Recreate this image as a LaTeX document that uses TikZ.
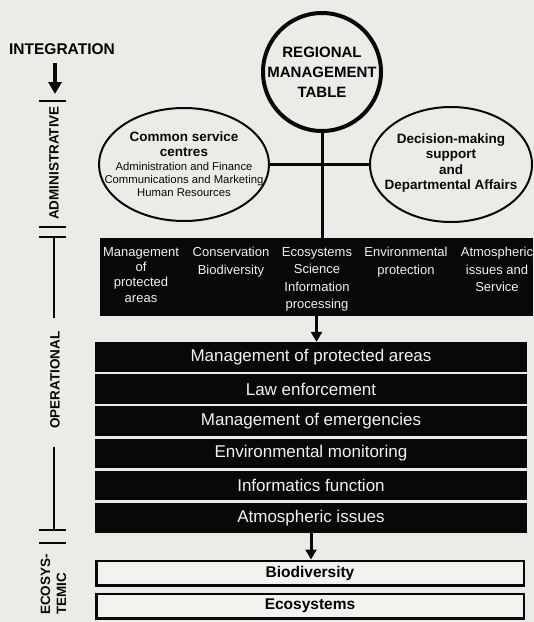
\documentclass[tikz,border=0pt]{standalone}
\usepackage{fontspec}
\setmainfont{Liberation Sans}
\usetikzlibrary{arrows.meta,shapes.geometric}
\definecolor{paper}{RGB}{236,235,231}
\definecolor{ink}{RGB}{8,8,8}
\definecolor{boxfill}{RGB}{242,242,238}
\definecolor{pale}{RGB}{242,242,240}

\begin{document}
\begin{tikzpicture}[x=1pt,y=-1pt,
  unit/.style={ellipse, draw=ink, line width=2pt, inner sep=0pt},
  boldtxt/.style={inner sep=0pt, align=center, text=ink, font=\bfseries\fontsize{13.5}{15.3}\selectfont},
  smalltxt/.style={inner sep=0pt, align=center, text=ink, font=\fontsize{11.3}{13}\selectfont},
  depttxt/.style={inner sep=0pt, align=center, anchor=north, text=pale, font=\fontsize{13}{17.5}\selectfont},
  bar/.style={fill=ink, text=pale, minimum width=432pt, minimum height=29.5pt, inner sep=0pt, font=\fontsize{17}{17}\selectfont},
  level/.style={draw=ink, line width=2.5pt, fill=boxfill, minimum width=427.5pt, minimum height=24.5pt, inner sep=0pt, font=\bfseries\fontsize{15.5}{16}\selectfont},
  link/.style={draw=ink, line width=3pt},
  arr/.style={draw=ink, line width=3pt, -{Triangle[width=11pt,length=10pt]}},
  bigarr/.style={draw=ink, line width=3.5pt, -{Triangle[width=13pt,length=12pt]}},
  ruler/.style={draw=ink, line width=2.5pt},
  phase/.style={rotate=90, inner sep=0pt, text=ink, font=\bfseries\fontsize{13.5}{16}\selectfont}
]
% background
\fill[paper] (0,0) rectangle (534,622);
\useasboundingbox (0,0) rectangle (534,622);

% ---- left-hand phase ruler ----
\node[inner sep=0pt, font=\bfseries\fontsize{15.5}{16}\selectfont] (intg) at (62,49) {INTEGRATION};
\coordinate (admtip) at (55,94);
\draw[bigarr, shorten <=8pt] (admtip |- intg.south) -- (admtip);

\draw[ruler] (39,101) -- (66,101);
\node[phase] (adm) at (54,163) {ADMINISTRATIVE};
\draw[ruler] (39,227) -- (66,227);
\draw[ruler] (39,237) -- (66,237);
\draw[ruler] (54,237) -- (54,318);
\node[phase] (oper) at (55,380) {OPERATIONAL};
\draw[ruler] (54,447) -- (54,530);
\draw[ruler] (39,530) -- (66,530);
\draw[ruler] (39,543) -- (66,543);
\node[phase, align=left, anchor=north west] (eco) at (40.5,615) {ECOSYS-\\TEMIC};

% ---- management table and support units ----
\node[circle, draw=ink, line width=4pt, minimum size=118pt, inner sep=0pt] (rmt) at (322,72) {};
\node[inner sep=0pt, align=center, font=\bfseries\fontsize{15}{20}\selectfont] (rmttext) at (rmt.center) {REGIONAL\\MANAGEMENT\\TABLE};

\node[unit, minimum width=170pt, minimum height=113pt] (cs) at (184,164.5) {};
\node[boldtxt] (cshead) at (184,144.5) {Common service\\centres};
\node[smalltxt] (csbody) at (184,179) {Administration and Finance\\Communications and Marketing\\Human Resources};

\node[unit, minimum width=162pt, minimum height=115pt] (dm) at (451,164.5) {};
\node[boldtxt] (dmtext) at (451,163) {Decision-making\\support\\and\\Departmental Affairs};

% ---- directorates ----
\node[fill=ink, minimum width=433pt, minimum height=78pt, inner sep=0pt] (depts) at (316.5,277) {};
\node[depttxt, font=\fontsize{13}{15.3}\selectfont] (d1) at (141,247) {Management\\of\\protected\\areas};
\node[depttxt] (d2) at (231,247) {Conservation\\Biodiversity};
\node[depttxt] (d3) at (317,247) {Ecosystems\\Science\\Information\\processing};
\node[depttxt] (d4) at (406,247) {Environmental\\protection};
\node[depttxt] (d5) at (497,247) {Atmospheric\\issues and\\Service};

\draw[link] (cs.east) -- (dm.west);
\draw[link] (rmt.south) -- (rmt.south |- depts.north);

% ---- operational functions ----
\node[bar] (bar1) at (311,356.8) {Management of protected areas};
\node[bar] (bar2) at (311,389.0) {Law enforcement};
\node[bar] (bar3) at (311,421.2) {Management of emergencies};
\node[bar] (bar4) at (311,453.4) {Environmental monitoring};
\node[bar] (bar5) at (311,485.6) {Informatics function};
\node[bar] (bar6) at (311,517.8) {Atmospheric issues};

\draw[arr] (depts.south) -- (depts.south |- bar1.north);

% ---- ecosystemic level ----
\node[level] (biod) at (310,573) {Biodiversity};
\node[level] (ecos) at (310,606) {Ecosystems};

\draw[arr] (bar6.south) -- (bar6.south |- biod.north);
\end{tikzpicture}
\end{document}
